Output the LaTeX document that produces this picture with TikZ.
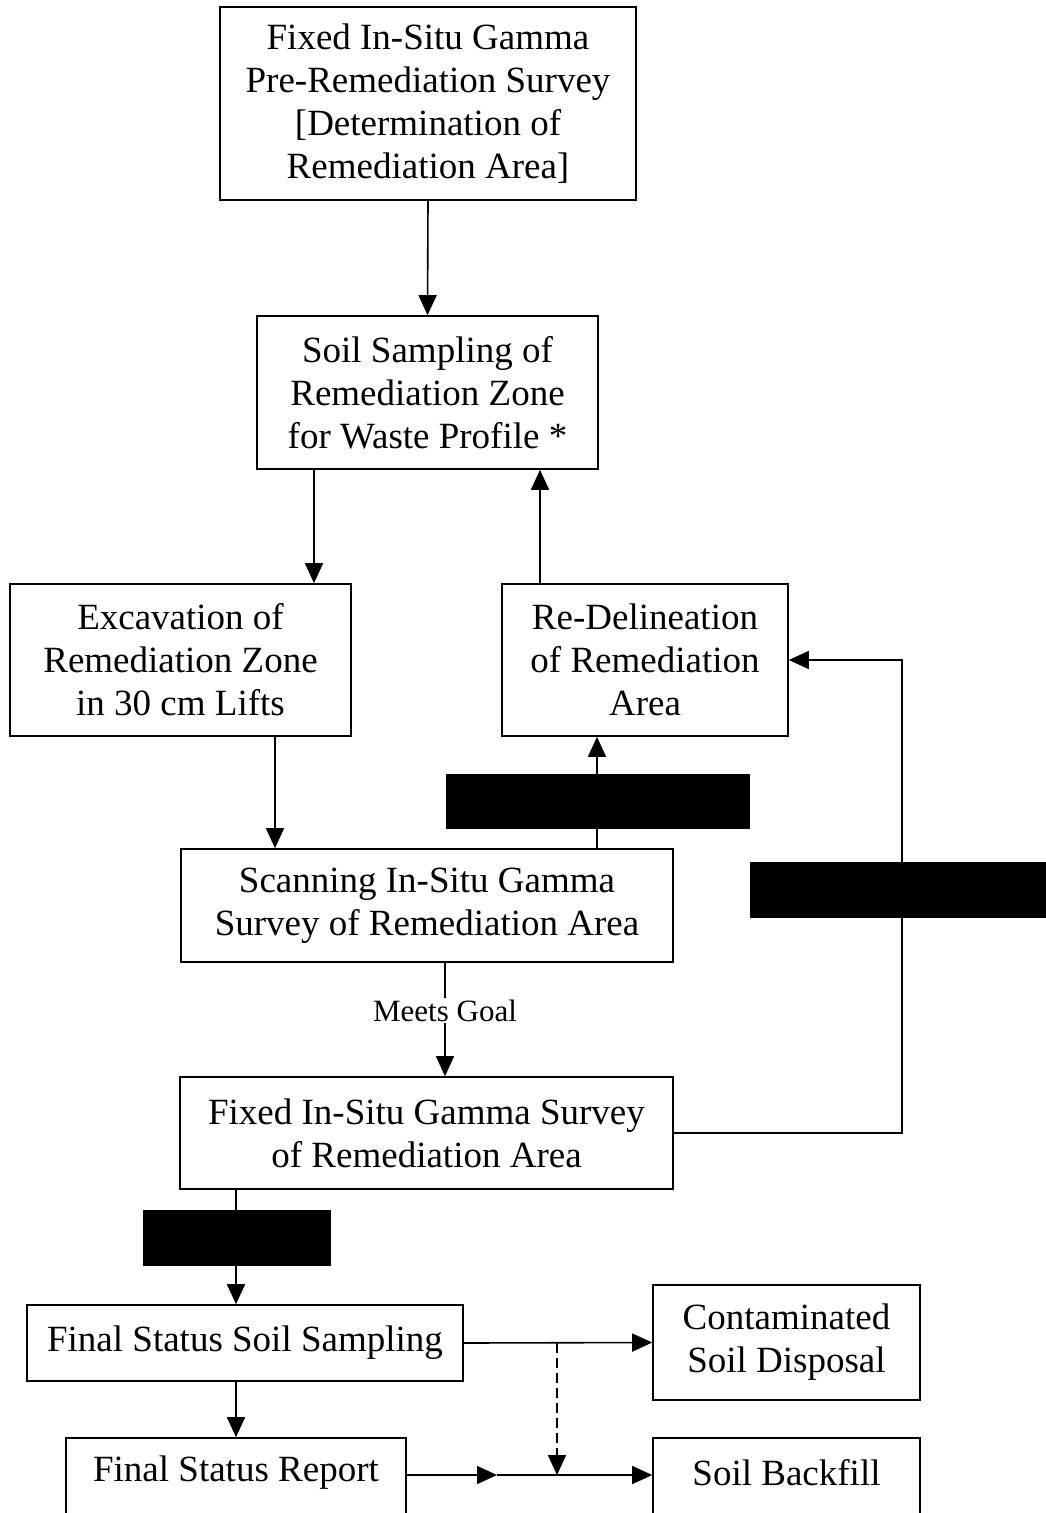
\documentclass[tikz,border=0pt]{standalone}
\usepackage{fontspec}
\setmainfont{Liberation Serif}
\usetikzlibrary{arrows.meta}
\begin{document}
\begin{tikzpicture}[x=1pt,y=-1pt,
  box/.style={draw,line width=1.6pt,rectangle,inner sep=0pt,align=center,
    font=\fontsize{37}{43}\selectfont},
  txt/.style={inner sep=0pt,align=center,font=\fontsize{37}{43}\selectfont},
  blk/.style={draw,fill=black,rectangle,inner sep=0pt},
  arr/.style={line width=1.6pt,-{Triangle[length=20pt,width=18pt]}},
  lbl/.style={fill=white,inner sep=2pt,font=\fontsize{31}{36}\selectfont}]
\useasboundingbox[fill=white] (0,0) rectangle (1045,1513);
% boxes
\node[box,minimum width=416,minimum height=193] (top) at (428,103.5)
  {Fixed In-Situ Gamma\\Pre-Remediation Survey\\{[}Determination of\\Remediation Area{]}};
\node[box,minimum width=341,minimum height=153] (soil) at (427.5,392.5)
  {Soil Sampling of\\Remediation Zone\\for Waste Profile *};
\node[box,minimum width=341,minimum height=152] (exc) at (180.5,660)
  {Excavation of\\Remediation Zone\\in 30 cm Lifts};
\node[box,minimum width=286,minimum height=152] (redel) at (645,660)
  {Re-Delineation\\of Remediation\\Area};
\node[box,minimum width=492,minimum height=113] (scan) at (427,905.5)
  {Scanning In-Situ Gamma\\Survey of Remediation Area};
\node[box,minimum width=493,minimum height=112] (fixed) at (426.5,1133)
  {Fixed In-Situ Gamma Survey\\of Remediation Area};
\node[box,minimum width=436,minimum height=76] (fsss) at (245,1343)
  {Final Status Soil Sampling};
\node[box,minimum width=267,minimum height=115] (cont) at (786.5,1342.5)
  {Contaminated\\Soil Disposal};
\node[box,minimum width=340,minimum height=100] (fsr) at (236,1488) {};
\node[txt] (fsrt) at (236,1473) {Final Status Report};
\node[box,minimum width=267,minimum height=100] (back) at (786.5,1488) {};
\node[txt] (backt) at (786.5,1473) {Soil Backfill};
% helper coordinates
\coordinate (x314) at (314,0);
\coordinate (x540) at (540,0);
\coordinate (x275) at (275,0);
\coordinate (x597) at (597,0);
\coordinate (x445) at (445,0);
\coordinate (x236) at (236,0);
\coordinate (x557) at (557,0);
\coordinate (x497) at (497,0);
\coordinate (xr) at (902,0);
\coordinate (y1343) at (0,1343);
\coordinate (y1475) at (0,1475);
% connectors
\draw[arr] (top.south) -- (soil.north);
\draw[arr] (soil.south -| x314) -- (exc.north -| x314);
\draw[arr] (redel.north -| x540) -- (soil.south -| x540);
\draw[arr] (exc.south -| x275) -- (scan.north -| x275);
\draw[arr] (scan.north -| x597) -- (redel.south -| x597);
\draw[arr] (scan.south -| x445) -- (fixed.north -| x445)
  node[lbl,pos=0.42] {Meets Goal};
\draw[arr] (fixed.east) -- (fixed.east -| xr) -- (redel.east -| xr) -- (redel.east);
\draw[arr] (fixed.south -| x236) -- (fsss.north -| x236);
\draw[arr] (fsss.east) -- (cont.west);
\draw[arr] (fsss.south -| x236) -- (fsr.north -| x236);
\coordinate (mid) at (x497 |- y1475);
\draw[arr] (fsr.east |- y1475) -- (mid);
\draw[arr] (mid) -- (back.west |- y1475);
\draw[arr,dash pattern=on 10pt off 5pt] (x557 |- y1343) -- (x557 |- y1475);
% redacted labels
\node[blk,minimum width=303,minimum height=54] (b1) at (597.5,801) {};
\node[blk,minimum width=295,minimum height=55] (b2) at (897.5,889.5) {};
\node[blk,minimum width=187,minimum height=55] (b3) at (236.5,1237.5) {};
\end{tikzpicture}
\end{document}
